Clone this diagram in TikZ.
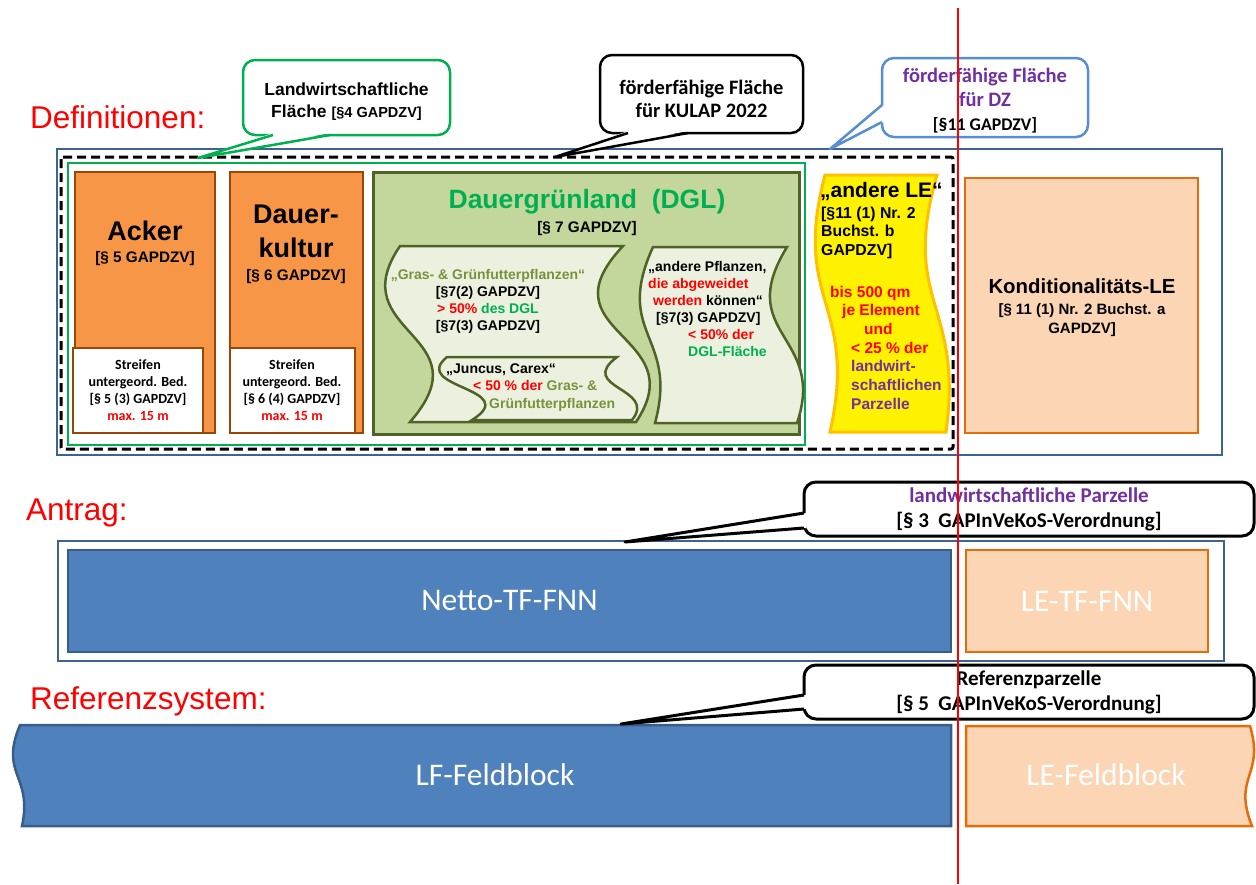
\documentclass[tikz,border=0pt]{standalone}
\usepackage{fontspec}
\setmainfont{Liberation Sans}
\newfontfamily\calibri{Carlito}
\usetikzlibrary{calc}

\definecolor{frameblue}{RGB}{61,99,145}
\definecolor{lfgreen}{RGB}{0,176,80}
\definecolor{ackerfill}{RGB}{247,150,70}
\definecolor{ackerline}{RGB}{152,72,6}
\definecolor{dglfill}{RGB}{195,214,155}
\definecolor{dglline}{RGB}{79,98,40}
\definecolor{scrollfill}{RGB}{235,241,222}
\definecolor{grastext}{RGB}{119,147,60}
\definecolor{legold}{RGB}{255,192,0}
\definecolor{kondfill}{RGB}{252,213,180}
\definecolor{kondline}{RGB}{228,108,10}
\definecolor{nettofill}{RGB}{79,129,189}
\definecolor{nettoline}{RGB}{56,93,138}
\definecolor{dzpurple}{RGB}{112,48,160}
\definecolor{dzline}{RGB}{85,142,213}

\begin{document}
\begin{tikzpicture}[x=1pt,y=-1pt]
\tikzset{
  sectlbl/.style={anchor=base west, inner sep=0, text=red, font=\fontsize{31.5}{36}\selectfont},
  boxtitle/.style={anchor=base, inner sep=0, align=center, font=\bfseries\fontsize{27}{34}\selectfont},
  paratxt/.style={anchor=base, inner sep=0, align=center, font=\bfseries\fontsize{15.3}{19}\selectfont},
  striptxt/.style={anchor=base, inner sep=0, align=center, font=\calibri\bfseries\fontsize{14}{16.7}\selectfont},
  scrolltxt/.style={inner sep=0, font=\bfseries\fontsize{14}{17}\selectfont},
  calloutbox/.style={draw, fill=white, rounded corners=12, line width=2.5, outer sep=0, inner sep=0, align=center},
  bigwhite/.style={text=white, font=\calibri\fontsize{31.5}{36}\selectfont},
  kulturbox/.style={draw=ackerline, fill=ackerfill, line width=2.5},
  stripbox/.style={draw=ackerline, fill=white, line width=2.5},
  wavebox/.style={draw=dglline, fill=scrollfill, line width=2.5},
  lebox/.style={draw=kondline, fill=kondfill, line width=2.5},
  nettobox/.style={draw=nettoline, fill=nettofill, line width=2.5}
}
\useasboundingbox (0,0) rectangle (1256,884);

% Definitionen
\draw[frameblue, line width=2] (57,149) rectangle (1222,455);
\draw[line width=3, dash pattern=on 9pt off 5pt, rounded corners=2] (61,157) rectangle (953,449);
\draw[lfgreen, line width=2.5] (68,163) rectangle (805,445);

\draw[kulturbox] (75,172) rectangle (215,433);
\draw[stripbox] (73,348) rectangle (203,433);
\draw[kulturbox] (230,172) rectangle (363,433);
\draw[stripbox] (230,348) rectangle (355,433);

\draw[draw=dglline, fill=dglfill, line width=3] (373,172) rectangle (799,434);
\draw[wavebox] (400,246) -- (623,246) .. controls (540,334) and (695,334) .. (636,422)
  -- (410,422) .. controls (487,334) and (340,334) .. (400,246) -- cycle;
\draw[wavebox] (653,247) -- (787,247) .. controls (733,335) and (827,335) .. (797,423)
  -- (655,423) .. controls (679,335) and (613,335) .. (653,247) -- cycle;
\draw[wavebox] (447,357) -- (617,357) .. controls (576,388) and (658,388) .. (632,420)
  -- (472,420) .. controls (523,388) and (409,388) .. (447,357) -- cycle;

\draw[draw=legold, fill=yellow, line width=3] (825,175) -- (937,175) .. controls (900,303) and (964,303) .. (946,432)
  -- (830,432) .. controls (859,303) and (791,303) .. (825,175) -- cycle;

\draw[lebox] (965,178) rectangle (1198,433);

% Antrag
\draw[frameblue, line width=2] (58,541) rectangle (1224,661);
\draw[nettobox] (68,550) rectangle (951,652);
\draw[lebox] (966,550) rectangle (1208,652);

% Referenzsystem
\draw[nettobox] (20,725) -- (951,725) -- (951,826) -- (22,826) .. controls (33,775) and (-1,775) .. (20,725) -- cycle;
\draw[lebox] (966,726) -- (1250,726) .. controls (1265,776) and (1232,776) .. (1252,826) -- (966,826) -- cycle;

% Texte (Anker base = letzte Zeile)
\node[sectlbl] (deflbl) at (30,128) {Definitionen:};
\node[sectlbl] (antlbl) at (26,520) {Antrag:};
\node[sectlbl] (reflbl) at (30,709) {Referenzsystem:};

\node[boxtitle] (ackertitle) at (145,240) {Acker};
\node[paratxt] (ackerpar) at (145,262) {{[}§ 5 GAPDZV{]}};
\node[striptxt] (ackerstrip) at (138,420) {Streifen\\untergeord. Bed.\\{[}§ 5 (3) GAPDZV{]}\\\textcolor{red}{max. 15 m}};

\node[boxtitle] (dktitle) at (296,257) {Dauer-\\kultur};
\node[paratxt] (dkpar) at (296,280) {{[}§ 6 GAPDZV{]}};
\node[striptxt] (dkstrip) at (292,420) {Streifen\\untergeord. Bed.\\{[}§ 6 (4) GAPDZV{]}\\\textcolor{red}{max. 15 m}};

\node[boxtitle, text=lfgreen, font=\bfseries\fontsize{26.5}{30}\selectfont] (dgltitle) at (587,208) {Dauergrünland\ \ (DGL)};
\node[paratxt] (dglpar) at (587,232) {{[}§ 7 GAPDZV{]}};

\node[scrolltxt, anchor=base, align=center, font=\bfseries\fontsize{14}{16.7}\selectfont] (grastxt) at (488,330)
  {\textcolor{grastext}{„Gras- \& Grünfutterpflanzen“}\\{[}§7(2) GAPDZV{]}\\\textcolor{red}{> 50\%} \textcolor{lfgreen}{des DGL}\\{[}§7(3) GAPDZV{]}};
\node[scrolltxt, anchor=base west, align=left] (andtxt) at (648,356)
  {„andere Pflanzen,\\\textcolor{red}{die abgeweidet}\\\hspace*{5pt}\textcolor{red}{werden} können“\\\hspace*{8pt}{[}§7(3) GAPDZV{]}\\\hspace*{40pt}\textcolor{red}{< 50\% der}\\\hspace*{40pt}\textcolor{lfgreen}{DGL-Fläche}};
\node[scrolltxt, anchor=base west, align=left, font=\bfseries\fontsize{14}{17.5}\selectfont] (junctxt) at (446,408)
  {„Juncus, Carex“\\\hspace*{27pt}\textcolor{red}{< 50 \% der} \textcolor{grastext}{Gras- \&}\\\hspace*{43pt}\textcolor{grastext}{Grünfutterpflanzen}};

\node[anchor=base west, inner sep=0, font=\bfseries\fontsize{21}{24}\selectfont] (letitle) at (820,197) {„andere LE“};
\node[anchor=base west, inner sep=0, align=left, font=\bfseries\fontsize{15.8}{18.5}\selectfont] (lepar) at (821,255) {{[}§11 (1) Nr. 2\\Buchst. b\\GAPDZV{]}};
\node[anchor=base west, inner sep=0, align=left, font=\bfseries\fontsize{15.5}{18.7}\selectfont] (lecond) at (830,409.2)
  {\textcolor{red}{bis 500 qm}\\\hspace*{12pt}\textcolor{red}{je Element}\\\hspace*{34pt}\textcolor{red}{und}\\\hspace*{21pt}\textcolor{red}{< 25 \% der}\\\hspace*{21pt}\textcolor{dzpurple}{landwirt-}\\\hspace*{21pt}\textcolor{dzpurple}{schaftlichen}\\\hspace*{21pt}\textcolor{dzpurple}{Parzelle}};

\node[anchor=base, inner sep=0, font=\bfseries\fontsize{20.4}{24}\selectfont] (kondtitle) at (1082,293) {Konditionalitäts-LE};
\node[paratxt, font=\bfseries\fontsize{15}{19}\selectfont] (kondpar) at (1082,333) {{[}§ 11 (1) Nr. 2 Buchst. a\\GAPDZV{]}};

\node[bigwhite] (netto) at (509.5,601) {Netto-TF-FNN};
\node[bigwhite] (letf) at (1087,601) {LE-TF-FNN};
\node[bigwhite] (lffb) at (495,775) {LF-Feldblock};
\node[bigwhite] (lefb) at (1106,775) {LE-Feldblock};

% Sprechblasen
\node[calloutbox, draw=lfgreen, minimum width=207, minimum height=75, font=\bfseries\fontsize{17.5}{22}\selectfont] (lwf) at (346.5,97.5)
  {\rule{0pt}{21pt}Landwirtschaftliche\\Fläche {\fontsize{14.5}{22}\selectfont[§4 GAPDZV]}};
\coordinate (lwftip) at (198,158);
\fill[white] ($(lwf.south west)+(30,-2)$) -- (lwftip) -- ($(lwf.south west)+(87,-2)$) -- cycle;
\draw[lfgreen, line width=2.5, line join=round] ($(lwf.south west)+(30,0)$) -- (lwftip) -- ($(lwf.south west)+(87,0)$);

\node[calloutbox, minimum width=203, minimum height=78, font=\calibri\bfseries\fontsize{20.5}{23}\selectfont] (kulap) at (701.5,94)
  {\rule{0pt}{25pt}förderfähige Fläche\\für KULAP 2022};
\coordinate (kulaptip) at (555,157);
\fill[white] ($(kulap.south west)+(28,-2)$) -- (kulaptip) -- ($(kulap.south west)+(88,-2)$) -- cycle;
\draw[line width=2.5, line join=round] ($(kulap.south west)+(28,0)$) -- (kulaptip) -- ($(kulap.south west)+(88,0)$);

\node[calloutbox, draw=dzline, minimum width=206, minimum height=79, font=\calibri\bfseries\fontsize{20.5}{24}\selectfont] (dz) at (985,97.5)
  {\rule{0pt}{21.5pt}\textcolor{dzpurple}{förderfähige Fläche}\\\textcolor{dzpurple}{für DZ}\\{\fontsize{17.8}{22}\selectfont[§11 GAPDZV]}};
\coordinate (dztip) at (830,149);
\fill[white] ($(dz.north west)+(2,47)$) -- (dztip) -- ($(dz.north west)+(2,64)$) -- cycle;
\draw[dzline, line width=2.5, line join=round] ($(dz.north west)+(0,47)$) -- (dztip) -- ($(dz.north west)+(0,64)$);

\node[calloutbox, line width=3, minimum width=450, minimum height=54, font=\calibri\bfseries\fontsize{21}{25}\selectfont] (parz) at (1029,509)
  {\textcolor{dzpurple}{landwirtschaftliche Parzelle}\\{[}§ 3\ \ GAPInVeKoS-Verordnung{]}};
\coordinate (parztip) at (625,542);
\fill[white] ($(parz.north west)+(2,31)$) -- (parztip) -- ($(parz.north west)+(2,46)$) -- cycle;
\draw[line width=3, line join=round] ($(parz.north west)+(0,31)$) -- (parztip) -- ($(parz.north west)+(0,46)$);

\node[calloutbox, line width=3, minimum width=450, minimum height=54, font=\calibri\bfseries\fontsize{21}{25}\selectfont] (refp) at (1029,692)
  {Referenzparzelle\\{[}§ 5\ \ GAPInVeKoS-Verordnung{]}};
\coordinate (refptip) at (621,724);
\fill[white] ($(refp.north west)+(2,30)$) -- (refptip) -- ($(refp.north west)+(2,44)$) -- cycle;
\draw[line width=3, line join=round] ($(refp.north west)+(0,30)$) -- (refptip) -- ($(refp.north west)+(0,44)$);

% Trennlinie
\draw[red, line width=1.5] (958,8) -- (958,884);
\end{tikzpicture}
\end{document}
